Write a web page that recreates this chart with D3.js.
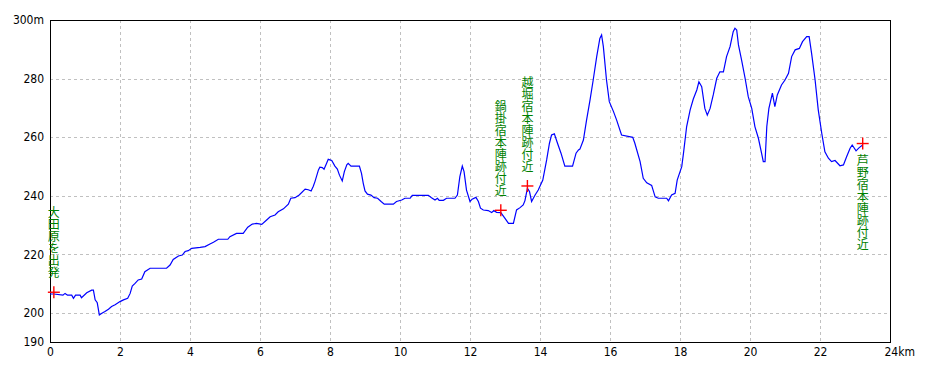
<!DOCTYPE html>
<html>
<head>
<meta charset="utf-8">
<script src="https://cdn.jsdelivr.net/npm/d3@7"></script>
<style>
  html, body { margin: 0; padding: 0; background: #fff; }
  svg { display: block; }
  .tick-label { font-family: "Liberation Sans Narrow", "DejaVu Sans Condensed", "Noto Sans CJK JP", sans-serif; font-size: 12px; fill: #000; }
  .place { font-family: "Noto Sans CJK JP", sans-serif; font-size: 12px; fill: #008000; writing-mode: vertical-rl; text-orientation: upright; }
</style>
</head>
<body>
<script>
// ---- data ----
const distKm = [0.00,0.11,0.37,0.43,0.50,0.62,0.67,0.73,0.86,0.90,1.05,1.19,1.24,1.29,1.35,1.41,1.47,1.57,1.67,1.76,1.86,2.00,2.10,2.22,2.29,2.35,2.43,2.52,2.62,2.71,2.86,3.33,3.43,3.52,3.67,3.78,3.86,3.95,4.05,4.29,4.43,4.57,4.67,4.81,5.08,5.14,5.33,5.52,5.65,5.78,5.90,6.05,6.19,6.29,6.43,6.52,6.67,6.81,6.88,7.00,7.12,7.29,7.38,7.46,7.52,7.57,7.67,7.71,7.78,7.83,7.90,7.95,8.05,8.14,8.21,8.27,8.35,8.41,8.48,8.52,8.60,8.84,8.90,8.95,9.00,9.07,9.17,9.26,9.36,9.46,9.55,9.81,9.90,10.05,10.14,10.29,10.35,10.81,10.90,11.00,11.07,11.12,11.24,11.33,11.57,11.64,11.71,11.78,11.83,11.90,12.00,12.06,12.17,12.24,12.30,12.38,12.52,12.62,12.68,12.76,12.88,13.00,13.10,13.24,13.33,13.43,13.52,13.57,13.64,13.70,13.76,13.86,13.95,14.08,14.19,14.27,14.33,14.41,14.50,14.60,14.71,14.93,15.03,15.10,15.14,15.24,15.33,15.43,15.52,15.62,15.71,15.76,15.81,15.90,15.98,16.10,16.19,16.33,16.65,16.71,16.86,16.95,17.05,17.19,17.29,17.38,17.62,17.67,17.76,17.86,17.92,18.05,18.10,18.19,18.29,18.38,18.48,18.54,18.62,18.71,18.78,18.86,18.95,19.05,19.14,19.24,19.33,19.43,19.52,19.57,19.62,19.67,19.76,19.86,19.95,20.05,20.14,20.24,20.33,20.38,20.43,20.48,20.54,20.64,20.71,20.78,20.90,21.00,21.10,21.19,21.29,21.41,21.50,21.62,21.69,21.76,21.86,21.95,22.05,22.14,22.24,22.33,22.43,22.57,22.67,22.76,22.86,22.92,23.03,23.12,23.22];
const elevM = [206.4,206.4,206.0,206.6,206.0,206.0,204.9,206.0,206.0,205.1,206.8,207.7,207.7,204.4,203.4,199.2,199.7,200.4,201.2,202.1,202.7,203.8,204.4,204.9,206.6,209.1,210.0,211.2,211.5,214.0,215.2,215.2,216.3,218.2,219.4,219.7,220.9,221.2,222.0,222.3,222.6,223.5,224.1,225.1,225.1,226.0,227.1,227.1,229.2,230.3,230.5,230.2,231.7,232.8,233.4,234.5,235.5,237.1,239.1,239.3,240.2,242.2,242.0,241.6,243.1,244.8,248.8,249.7,249.6,249.0,251.0,252.4,252.0,250.1,249.1,247.0,245.0,248.2,250.5,251.0,250.1,250.1,247.6,244.2,241.6,240.5,240.2,239.3,239.1,238.0,237.1,237.1,238.0,238.5,239.1,239.1,240.1,240.1,239.3,238.5,239.1,238.4,238.4,239.1,239.1,240.2,246.5,250.1,248.2,241.9,238.0,238.8,239.4,238.0,235.7,235.1,234.9,234.2,234.9,234.3,234.2,232.2,230.5,230.5,235.1,235.9,236.8,238.3,242.5,241.4,238.0,240.2,241.9,245.3,252.2,257.9,260.7,261.1,257.9,254.5,250.1,250.1,254.5,255.6,255.9,259.0,265.8,272.7,279.5,287.5,293.7,294.9,290.9,279.5,272.1,268.7,265.8,260.7,259.9,257.9,251.6,245.9,244.4,243.5,239.6,239.1,239.1,238.2,240.2,240.8,245.3,249.9,254.5,263.6,269.3,273.0,276.1,278.9,277.2,269.8,267.5,269.8,274.4,280.1,282.3,282.3,287.5,290.9,296.0,297.2,296.6,291.5,286.3,280.1,273.8,269.8,263.6,259.6,254.5,251.6,251.6,263.6,269.8,275.0,270.4,274.4,277.8,279.5,281.8,287.5,289.8,290.3,292.6,294.3,294.3,288.6,279.5,269.3,261.3,255.0,252.8,251.6,252.0,250.2,250.5,253.3,256.2,257.3,255.3,256.4,257.3];

const markerKm = [0.11, 12.88, 13.64, 23.22];
const markerElev = [207, 235, 243.3, 257.8];
const markerNames = ["大田原を出発", "鍋掛宿本陣跡付近", "越堀宿本陣跡付近", "芦野宿本陣跡付近"];

const xTicks = [0,2,4,6,8,10,12,14,16,18,20,22,24];
const xTickLabels = ["0","2","4","6","8","10","12","14","16","18","20","22","24km"];
const yTicks = [190,200,220,240,260,280,300];
const yTickLabels = ["190","200","220","240","260","280","300m"];
const yGrid = [200,220,240,260,280];
const xGrid = [2,4,6,8,10,12,14,16,18,20,22];

// ---- chart ----
const W = 930, H = 372;
const mLeft = 50, mRight = 890, mTop = 20, mBottom = 342;

const svg = d3.select("body").append("svg").attr("width", W).attr("height", H);

const x = d3.scaleLinear().domain([0, 24]).range([mLeft, mRight]);
const y = d3.scaleLinear().domain([190, 300]).range([mBottom, mTop]);

// grid
const grid = svg.append("g").attr("stroke", "#c0c0c0").attr("stroke-width", 1)
  .attr("stroke-dasharray", "3,3").attr("shape-rendering", "crispEdges");
grid.selectAll("line.h").data(yGrid).join("line").attr("class", "h")
  .attr("x1", mLeft).attr("x2", mRight)
  .attr("y1", d => Math.round(y(d)) + 0.5).attr("y2", d => Math.round(y(d)) + 0.5);
grid.selectAll("line.v").data(xGrid).join("line").attr("class", "v")
  .attr("y1", mTop).attr("y2", mBottom)
  .attr("x1", d => Math.round(x(d)) + 0.5).attr("x2", d => Math.round(x(d)) + 0.5);

// frame
svg.append("rect").attr("x", mLeft + 0.5).attr("y", mTop + 0.5)
  .attr("width", mRight - mLeft).attr("height", mBottom - mTop)
  .attr("fill", "none").attr("stroke", "#000").attr("stroke-width", 1)
  .attr("shape-rendering", "crispEdges");

// axes (labels only)
const yAxis = d3.axisLeft(y).tickValues(yTicks).tickSize(0).tickPadding(6)
  .tickFormat((d, i) => yTickLabels[i]);
const gy = svg.append("g").attr("transform", `translate(${mLeft},0)`).call(yAxis);
gy.select(".domain").remove();
gy.attr("font-family", null).attr("font-size", null);
gy.selectAll("text").attr("class", "tick-label");

const xAxis = d3.axisBottom(x).tickValues(xTicks).tickSize(0).tickPadding(5)
  .tickFormat((d, i) => xTickLabels[i]);
const gx = svg.append("g").attr("transform", `translate(0,${mBottom})`).call(xAxis);
gx.select(".domain").remove();
gx.attr("font-family", null).attr("font-size", null);
gx.selectAll("text").attr("class", "tick-label");
gx.selectAll(".tick").filter(d => d === 24).select("text")
  .attr("text-anchor", "start").attr("dx", -6);

// profile line
const pts = distKm.map((d, i) => [d, elevM[i]]);
svg.append("path").datum(pts)
  .attr("fill", "none").attr("stroke", "#0000ff").attr("stroke-width", 1.2)
  .attr("stroke-linejoin", "miter")
  .attr("d", d3.line().x(d => x(d[0])).y(d => y(d[1])));

// markers
const mk = markerKm.map((d, i) => ({ km: d, el: markerElev[i], name: markerNames[i], below: i === markerKm.length - 1 }));
const mg = svg.append("g").attr("stroke", "#ff0000").attr("stroke-width", 1.4);
mk.forEach(m => {
  const cx = x(m.km), cy = y(m.el);
  mg.append("line").attr("x1", cx - 6).attr("x2", cx + 6).attr("y1", cy).attr("y2", cy);
  mg.append("line").attr("x1", cx).attr("x2", cx).attr("y1", cy - 6).attr("y2", cy + 6);
});

// vertical labels (one text per label, vertical writing mode)
svg.append("g").selectAll("text").data(mk).join("text")
  .attr("class", "place")
  .attr("x", m => x(m.km))
  .attr("y", m => m.below ? y(m.el) + 10.5 : y(m.el) - 13.5)
  .attr("text-anchor", m => m.below ? "start" : "end")
  .text(m => m.name);
</script>
</body>
</html>
